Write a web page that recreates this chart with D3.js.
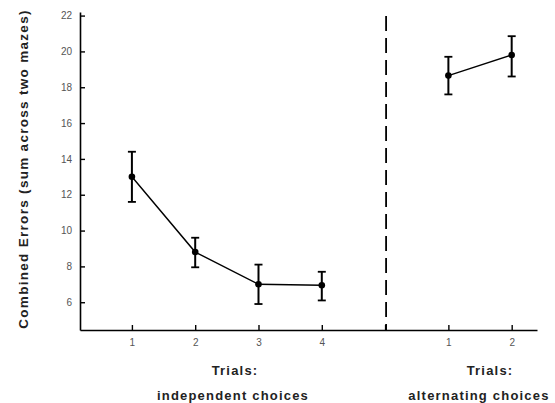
<!DOCTYPE html>
<html>
<head>
<meta charset="utf-8">
<script src="https://cdn.jsdelivr.net/npm/d3@7"></script>
<style>
  body { margin: 0; background: #fff; }
  svg { font-family: "Liberation Sans", Arial, sans-serif; }
</style>
</head>
<body>
<svg class="chart"></svg>
<script>
// trial positions on the x axis (5 is the gap with the dashed divider)
var indepPos = [1, 2, 3, 4];
var indepMean = [13.0, 8.8, 7.0, 6.95];
var indepLo = [11.6, 7.95, 5.9, 6.1];
var indepHi = [14.4, 9.6, 8.1, 7.7];

var altPos = [6, 7];
var altMean = [18.65, 19.8];
var altLo = [17.6, 18.6];
var altHi = [19.7, 20.85];

var xTickPos = [1, 2, 3, 4, 5, 6, 7];
var xTickText = ["1", "2", "3", "4", "", "1", "2"];
var yTicks = [6, 8, 10, 12, 14, 16, 18, 20, 22];
var dividerPos = 5;

var width = 555;
var height = 403;

var x = d3.scaleLinear()
            .domain([0.18, 7.4])
            .range([80, 537]);
var y = d3.scaleLinear()
            .domain([4.45, 22.2])
            .range([330, 12]);

var svg = d3.select(".chart")
            .attr("width", width)
            .attr("height", height);

var yAxis = d3.axisLeft(y)
                .tickValues(yTicks)
                .tickSizeInner(-5)
                .tickSizeOuter(0)
                .tickPadding(8);

var xAxis = d3.axisBottom(x)
                .tickValues(xTickPos)
                .tickFormat(function(d, i) { return xTickText[i]; })
                .tickSizeInner(-5)
                .tickSizeOuter(0)
                .tickPadding(9);

svg.append("g")
    .attr("transform", "translate(80,0)")
    .call(yAxis);

svg.append("g")
    .attr("transform", "translate(0,330)")
    .call(xAxis);

svg.selectAll(".domain").attr("stroke", "#000").attr("stroke-width", 1.6);
svg.selectAll(".tick line").attr("stroke", "#000").attr("stroke-width", 1.4);
svg.selectAll(".tick text")
    .attr("fill", "#555")
    .style("font-size", "10px");

// dashed divider
svg.append("line")
    .attr("x1", x(dividerPos) + 1).attr("x2", x(dividerPos) + 1)
    .attr("y1", y(22.2) + 4).attr("y2", y(4.45))
    .attr("stroke", "#000")
    .attr("stroke-width", 1.8)
    .attr("stroke-dasharray", "15,7");

function drawSeries(pos, mean, lo, hi) {
    var pts = pos.map(function(p, i) { return [p, mean[i], lo[i], hi[i]]; });
    var line = d3.line()
        .x(function(d) { return x(d[0]); })
        .y(function(d) { return y(d[1]); });

    svg.append("path")
        .datum(pts)
        .attr("d", line)
        .attr("fill", "none")
        .attr("stroke", "#000")
        .attr("stroke-width", 1.4);

    var g = svg.append("g");
    g.selectAll(".bar")
        .data(pts)
        .enter()
        .append("line")
        .attr("x1", function(d) { return x(d[0]); })
        .attr("x2", function(d) { return x(d[0]); })
        .attr("y1", function(d) { return y(d[2]); })
        .attr("y2", function(d) { return y(d[3]); })
        .attr("stroke", "#000")
        .attr("stroke-width", 2);

    [2, 3].forEach(function(k) {
        g.selectAll(".cap" + k)
            .data(pts)
            .enter()
            .append("line")
            .attr("x1", function(d) { return x(d[0]) - 4; })
            .attr("x2", function(d) { return x(d[0]) + 4; })
            .attr("y1", function(d) { return y(d[k]); })
            .attr("y2", function(d) { return y(d[k]); })
            .attr("stroke", "#000")
            .attr("stroke-width", 1.8);
    });

    g.selectAll("circle")
        .data(pts)
        .enter()
        .append("circle")
        .attr("cx", function(d) { return x(d[0]); })
        .attr("cy", function(d) { return y(d[1]); })
        .attr("r", 3.3)
        .attr("fill", "#000");
}

drawSeries(indepPos, indepMean, indepLo, indepHi);
drawSeries(altPos, altMean, altLo, altHi);

// labels
svg.append("text")
    .attr("transform", "translate(28,169) rotate(-90)")
    .attr("text-anchor", "middle")
    .style("font-size", "13.5px")
    .style("font-weight", "bold")
    .style("letter-spacing", "1.3px")
    .attr("fill", "#222")
    .text("Combined Errors (sum across two mazes)");

var xLabels = [
    [235, 375, "Trials:"],
    [233, 400, "independent choices"],
    [490, 375, "Trials:"],
    [479, 400, "alternating choices"]
];
svg.selectAll(".xlab")
    .data(xLabels)
    .enter()
    .append("text")
    .attr("x", function(d) { return d[0]; })
    .attr("y", function(d) { return d[1]; })
    .attr("text-anchor", "middle")
    .style("font-size", "13px")
    .style("font-weight", "bold")
    .style("letter-spacing", "1.2px")
    .attr("fill", "#222")
    .text(function(d) { return d[2]; });
</script>
</body>
</html>
